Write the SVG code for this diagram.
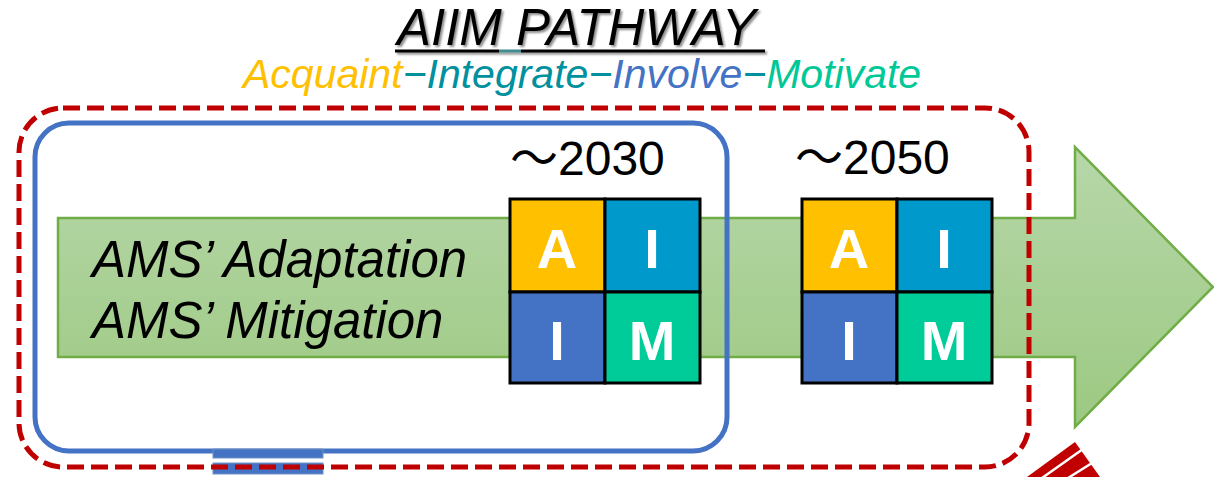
<svg xmlns="http://www.w3.org/2000/svg" width="1214" height="477" viewBox="0 0 1214 477">
<defs>
<linearGradient id="arrowGrad" x1="0" y1="0" x2="0" y2="1">
<stop offset="0" stop-color="#B7D7A9"/>
<stop offset="1" stop-color="#9CC982"/>
</linearGradient>
<filter id="shadow" x="-10%" y="-30%" width="120%" height="160%">
<feDropShadow dx="2" dy="2" stdDeviation="1.2" flood-color="#000" flood-opacity="0.45"/>
</filter>
</defs>
<style>
.sans{font-family:"Liberation Sans",Arial,"Noto Sans CJK JP",sans-serif}
.it{font-style:italic}
.cell{stroke:#000;stroke-width:3}
.letter{font-family:"Liberation Sans",Arial,sans-serif;font-weight:bold;font-size:56px;fill:#fff;text-anchor:middle}
.year{font-family:"Liberation Sans","Noto Sans CJK JP",sans-serif;font-size:48px;fill:#000}
</style>

<g id="title" filter="url(#shadow)">
<text class="sans it" x="397" y="45" font-size="51" fill="#000">AIIM PATHWAY</text>
<line x1="395" y1="51" x2="499" y2="51" stroke="#000" stroke-width="3"/>
<line x1="499" y1="51" x2="521" y2="51" stroke="#3F8C90" stroke-width="3"/>
<line x1="521" y1="51" x2="765" y2="51" stroke="#000" stroke-width="3"/>
</g>

<g id="subtitle">
<text class="sans it" x="243" y="88" font-size="41"><tspan fill="#FFC000">Acquaint</tspan><tspan fill="#00909E">−Integrate−</tspan><tspan fill="#4472C4">Involve</tspan><tspan fill="#00909E">−</tspan><tspan fill="#00C896">Motivate</tspan></text>
</g>

<g id="arrow">
<path d="M58,218 H1075 V147 L1213,287 L1075,427 V357 H58 Z" fill="url(#arrowGrad)" stroke="#70AD47" stroke-width="2.5" stroke-linejoin="miter"/>
<text class="sans it" x="92" y="277" font-size="51" fill="#000">AMS’ Adaptation</text>
<text class="sans it" x="92" y="338" font-size="51" fill="#000">AMS’ Mitigation</text>
</g>

<g id="phase2030">
<rect x="35" y="123" width="692" height="328" rx="34" ry="34" fill="none" stroke="#4472C4" stroke-width="5"/>
<rect x="213" y="449" width="110" height="9" fill="#4472C4" stroke="#6F93C2" stroke-width="1"/>
<rect x="213" y="463" width="110" height="11" fill="#4472C4" stroke="#6F93C2" stroke-width="1"/>
</g>

<g id="grid2030">
<text class="year" x="510" y="175">～2030</text>
<rect class="cell" x="510" y="199" width="95" height="93" fill="#FFC000"/>
<rect class="cell" x="605" y="199" width="95" height="93" fill="#0099CC"/>
<rect class="cell" x="510" y="292" width="95" height="91" fill="#4472C4"/>
<rect class="cell" x="605" y="292" width="95" height="91" fill="#00CC99"/>
<text class="letter" x="557" y="268">A</text>
<text class="letter" x="652" y="268">I</text>
<text class="letter" x="557" y="360">I</text>
<text class="letter" x="652" y="360">M</text>
</g>

<g id="grid2050">
<text class="year" x="795" y="174">～2050</text>
<rect class="cell" x="802" y="199" width="95" height="93" fill="#FFC000"/>
<rect class="cell" x="897" y="199" width="95" height="93" fill="#0099CC"/>
<rect class="cell" x="802" y="292" width="95" height="91" fill="#4472C4"/>
<rect class="cell" x="897" y="292" width="95" height="91" fill="#00CC99"/>
<text class="letter" x="849" y="268">A</text>
<text class="letter" x="944" y="268">I</text>
<text class="letter" x="849" y="360">I</text>
<text class="letter" x="944" y="360">M</text>
</g>

<g id="pathway-frame">
<rect x="19" y="108" width="1010" height="359" rx="44" ry="44" fill="none" stroke="#C00000" stroke-width="5" stroke-dasharray="17 7"/>
</g>

<g id="corner-mark">
<polygon points="1027,477 1075,442 1100,477" fill="#C00000"/>
<line x1="1083" y1="449" x2="1042" y2="478" stroke="#fff" stroke-width="2.5"/>
<line x1="1092" y1="463" x2="1068" y2="478" stroke="#fff" stroke-width="2.5"/>
</g>
</svg>
